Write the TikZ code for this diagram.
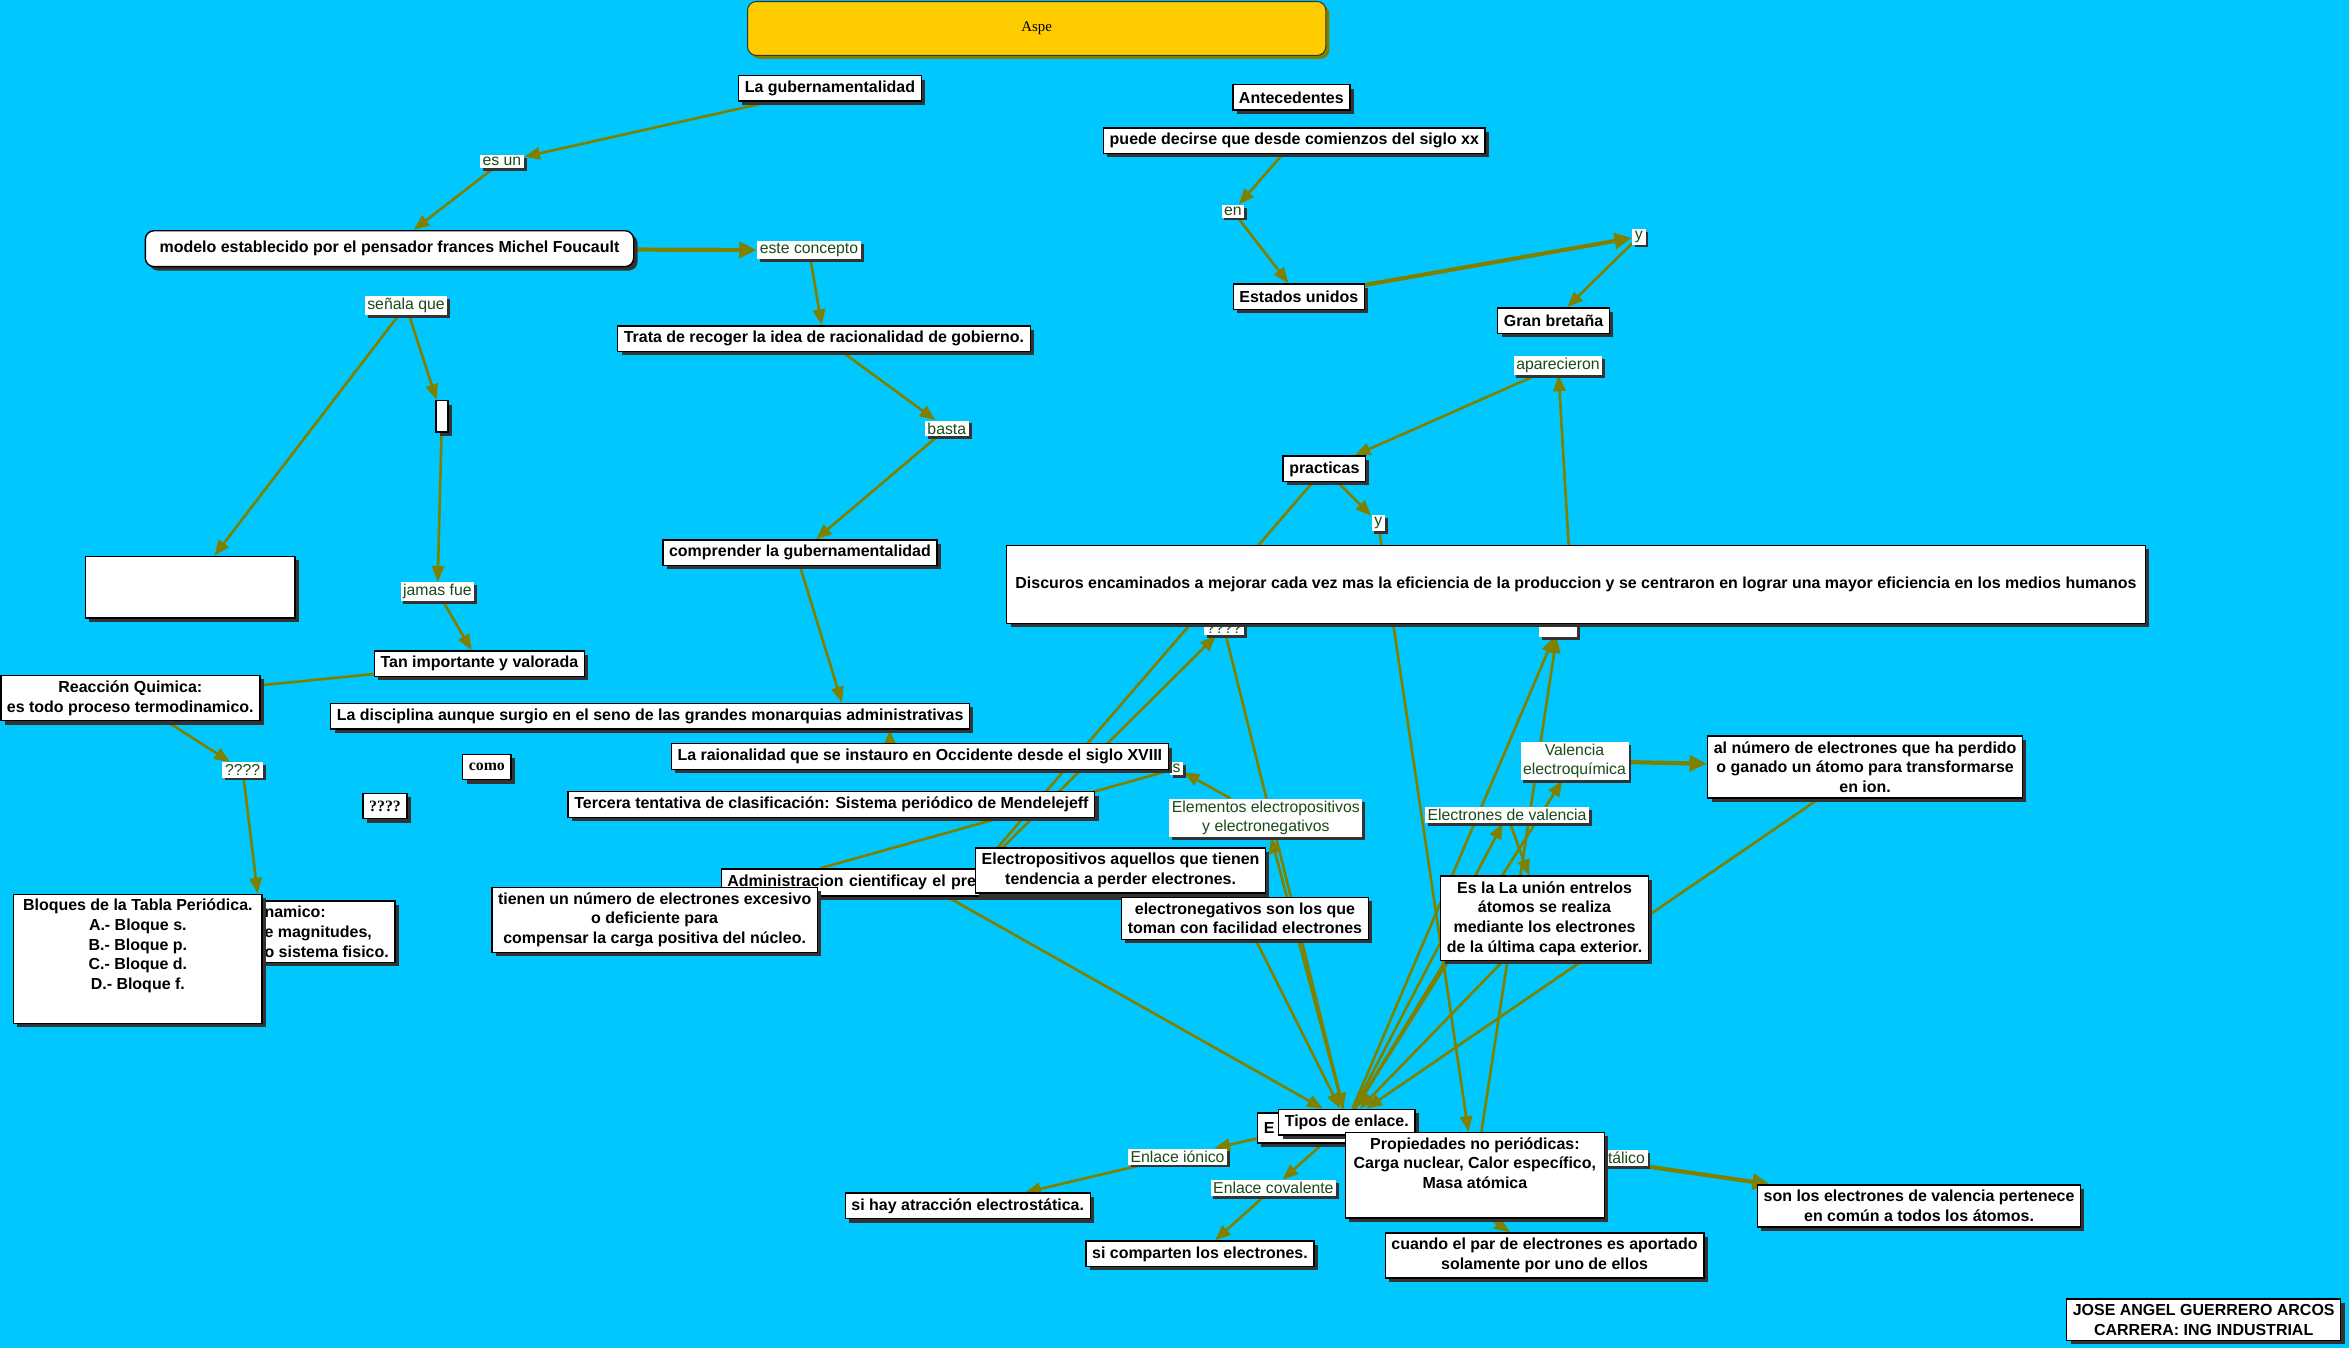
\documentclass[tikz,border=0pt]{standalone}
\usepackage{fontspec}
\setmainfont{Liberation Serif}
\setsansfont{Liberation Sans}
\usepackage{xcolor}
\usetikzlibrary{arrows.meta, shadows}

\definecolor{bgcyan}{RGB}{0,200,255}
\definecolor{linkolive}{RGB}{128,128,0}
\definecolor{linkgreen}{RGB}{25,75,25}
\definecolor{shadowgray}{RGB}{51,51,51}
\definecolor{titleyellow}{RGB}{255,204,0}

\pgfdeclarelayer{bg}
\pgfdeclarelayer{edges}
\pgfsetlayers{bg,edges,main}

\begin{document}
\begin{tikzpicture}[
    x=0.03cm, y=-0.03cm,
    concept/.style={draw=black, line width=0.8pt, fill=white, rectangle, align=center, font=\sffamily\bfseries\fontsize{9.1}{11.2}\selectfont, inner xsep=3.5pt, inner ysep=3pt, minimum height=14.5pt, drop shadow={shadow xshift=2.2pt, shadow yshift=-2.2pt, fill=shadowgray, opacity=1}},
    serifbox/.style={concept, font=\rmfamily\bfseries\fontsize{9}{11}\selectfont},
    link/.style={fill=white, text=linkgreen, align=center, font=\sffamily\fontsize{9}{11}\selectfont, inner xsep=1.5pt, inner ysep=1.2pt, drop shadow={shadow xshift=1.6pt, shadow yshift=-1.6pt, fill=shadowgray, opacity=1}},
    boxtext/.style={align=center, font=\sffamily\bfseries\fontsize{9.1}{11.2}\selectfont, inner sep=3pt},
    arrow/.style={-{Triangle[length=9pt, width=7pt]}, line width=1.5pt, draw=linkolive},
    thickarrow/.style={-{Triangle[length=10pt, width=9pt]}, line width=2.4pt, draw=linkolive},
    plainline/.style={line width=1.5pt, draw=linkolive}
]

\begin{pgfonlayer}{bg}
\fill [bgcyan] (0,0) rectangle (1568,900);
\end{pgfonlayer}
\useasboundingbox (0,0) rectangle (1568,900);

% Title
\node (aspe) [rectangle, rounded corners=5pt, draw=black!80, line width=0.6pt, fill=titleyellow, minimum width=11.58cm, minimum height=1.08cm, font=\rmfamily\fontsize{8.5}{10}\selectfont, drop shadow={shadow xshift=2pt, shadow yshift=-2pt, fill=linkolive, opacity=1}] at (692,19) {Aspe};

% Nodes left branch
\node (gub) [concept] at (554,59) {La gubernamentalidad};
\node (esun) [link] at (335,108) {es un};
\node (modelo) [concept, rounded corners=5pt, minimum width=9.78cm, minimum height=0.72cm] at (260,166) {modelo establecido por el pensador frances Michel Foucault};
\node (esteconcepto) [link] at (540,167) {este concepto};
\node (senala) [link] at (271,204) {señala que};
\node (trata) [concept] at (550,226) {Trata de recoger la idea de racionalidad de gobierno.};
\node (barra) [concept, inner sep=0pt, minimum width=0.24cm, minimum height=0.63cm] at (295,278) {};
\node (basta) [link] at (632,286) {basta};
\node (vacio) [concept, minimum width=4.2cm, minimum height=1.23cm] at (127,392) {};
\node (comprender) [concept] at (534,369) {comprender la gubernamentalidad};
\node (jamas) [link] at (292,395) {jamas fue};
\node (tan) [concept] at (320,443) {Tan importante y valorada};
\node (reaccion) [concept] at (87,466) {Reacción Quimica:\\es todo proceso termodinamico.};
\node (disciplina) [concept] at (434,478) {La disciplina aunque surgio en el seno de las grandes monarquias administrativas};
\node (qmarka) [link] at (162,514) {????};
\node (como) [serifbox] at (325,512) {como};
\node (qmarkb) [serifbox] at (257,538) {????};
\node (sfrag) [link, anchor=east] at (790,513) {s};
\node (raionalidad) [concept] at (614,505) {La raionalidad que se instauro en Occidente desde el siglo XVIII};
\node (tercera) [concept] at (555,537) {Tercera tentativa de clasificación: Sistema periódico de Mendelejeff};
\node (sistema) [concept, anchor=north west, align=left] at (172,601) {namico:\\e magnitudes,\\o sistema fisico.};
\node (bloques) [concept, minimum width=4.98cm, minimum height=2.58cm] at (92,640) {};
\node (bloquestxt) [boxtext, anchor=north] at (bloques.north) {Bloques de la Tabla Periódica.\\A.- Bloque s.\\B.- Bloque p.\\C.- Bloque d.\\D.- Bloque f.};

% Nodes top right
\node (antecedentes) [concept] at (862,65) {Antecedentes};
\node (puede) [concept] at (864,94) {puede decirse que desde comienzos del siglo xx};
\node (en) [link] at (823,141) {en};
\node (estados) [concept] at (867,198) {Estados unidos};
\node (ytop) [link] at (1094,158) {y};
\node (granbretana) [concept] at (1037,214) {Gran bretaña};
\node (aparecieron) [link] at (1040,244) {aparecieron};
\node (practicas) [concept] at (884,313) {practicas};
\node (ymid) [link] at (920,349) {y};
\node (qmarkc) [link] at (817,419) {????};
\node (blanco) [link, minimum width=0.75cm, minimum height=0.36cm] at (1040,419) {};
\node (discuros) [concept, minimum width=22.8cm, minimum height=1.56cm] at (1052,390) {Discuros encaminados a mejorar cada vez mas la eficiencia de la produccion y se centraron en lograr una mayor eficiencia en los medios humanos};

% Nodes middle cluster
\node (valencia) [link] at (1051,508) {Valencia\\electroquímica};
\node (alnumero) [concept] at (1245,512) {al número de electrones que ha perdido\\o ganado un átomo para transformarse\\en ion.};
\node (elementos) [link] at (845,546) {Elementos electropositivos\\y electronegativos};
\node (elecval) [link] at (1006,544) {Electrones de valencia};
\node (admin) [concept, anchor=west, text width=9.62cm, align=left, minimum height=0.54cm] at (481,589) {Administracion cientificay el pre};
\node (tienen) [concept] at (437,614) {tienen un número de electrones excesivo\\o deficiente para\\compensar la carga positiva del núcleo.};
\node (electropos) [concept] at (748,581) {Electropositivos aquellos que tienen\\tendencia a perder electrones.};
\node (electroneg) [concept] at (831,613) {electronegativos son los que\\toman con facilidad electrones};
\node (esla) [concept] at (1031,613) {Es la La unión entrelos\\átomos se realiza\\mediante los electrones\\de la última capa exterior.};

% Nodes bottom
\node (ebox) [concept, anchor=west, text width=1.58cm, align=left, minimum height=0.6cm] at (839,753) {E};
\node (tipos) [concept] at (899,749) {Tipos de enlace.};
\node (metalico) [link, anchor=east] at (1100,773) {Enlace metálico};
\node (propiedades) [concept, minimum width=5.19cm, minimum height=1.71cm] at (984.5,784.5) {};
\node (propiedadestxt) [boxtext, anchor=north] at (propiedades.north) {Propiedades no periódicas:\\Carga nuclear, Calor específico,\\Masa atómica};
\node (ionico) [link] at (786,772) {Enlace iónico};
\node (covalente) [link] at (850,793) {Enlace covalente};
\node (sihay) [concept] at (646,805) {si hay atracción electrostática.};
\node (sicomparten) [concept] at (801,837) {si comparten los electrones.};
\node (cuando) [concept] at (1031,838) {cuando el par de electrones es aportado\\solamente por uno de ellos};
\node (sonlos) [concept] at (1281,805) {son los electrones de valencia pertenece\\en común a todos los átomos.};
\node (autor) [concept] at (1471,881) {JOSE ANGEL GUERRERO ARCOS\\CARRERA: ING INDUSTRIAL};

% Paths
\begin{pgfonlayer}{edges}
\draw [arrow] (gub) -- (esun);
\draw [arrow] (esun) -- (modelo);
\draw [thickarrow] (modelo) -- (esteconcepto);
\draw [arrow] (esteconcepto) -- (trata);
\draw [arrow] (senala) -- (vacio);
\draw [arrow] (senala) -- (barra);
\draw [arrow] (barra) -- (jamas);
\draw [arrow] (jamas) -- (tan);
\draw [plainline] (tan) -- (reaccion);
\draw [arrow] (reaccion) -- (qmarka);
\draw [arrow] (qmarka) -- ([xshift=-3pt]bloques.north east);
\draw [arrow] (trata) -- (basta);
\draw [arrow] (basta) -- (comprender);
\draw [arrow] (comprender.south) -- ([xshift=3.84cm]disciplina.north);
\draw [arrow] ([xshift=-0.6cm]raionalidad.center) -- ([xshift=-0.6cm]raionalidad.north |- disciplina.south);

\draw [arrow] (puede) -- (en);
\draw [arrow] (en) -- (estados);
\draw [thickarrow] (estados) -- (ytop);
\draw [arrow] (ytop) -- (granbretana);
\draw [arrow] ([xshift=0.3cm]blanco.north) -- (aparecieron);
\draw [arrow] (aparecieron) -- (practicas);
\draw [arrow] (practicas) -- (ymid);
\draw [arrow] (practicas) -- (admin);
\draw [arrow] (ymid) -- (propiedades);

\draw [arrow] (admin) -- (qmarkc);
\draw [plainline] ([xshift=2cm]admin.north west) -- (sfrag);
\draw [arrow] ([xshift=4.53cm]admin.south west) -- (tipos);
\draw [arrow] (electroneg) -- (tipos);
\draw [arrow] (qmarkc) -- (tipos);
\draw [arrow] (tipos) -- (elementos);
\draw [arrow] (elementos) -- (sfrag);
\draw [arrow] (tipos) -- (blanco);
\draw [arrow] (propiedades) -- (blanco);
\draw [arrow] (tipos) -- (elecval);
\draw [arrow] (tipos) -- (valencia);
\draw [arrow] (elecval) -- (esla);
\draw [thickarrow] (valencia) -- (alnumero);
\draw [arrow] (alnumero) -- (tipos);
\draw [arrow] (esla) -- (tipos);
\draw [arrow] ([xshift=0.1cm]esla.south west) -- (tipos);

\draw [arrow] (ebox) -- (ionico);
\draw [arrow] (ionico) -- (sihay);
\draw [arrow] (tipos) -- (covalente);
\draw [arrow] (covalente) -- (sicomparten);
\draw [arrow] (tipos) -- (cuando);
\draw [thickarrow] (metalico) -- (sonlos);
\end{pgfonlayer}

\end{tikzpicture}
\end{document}
